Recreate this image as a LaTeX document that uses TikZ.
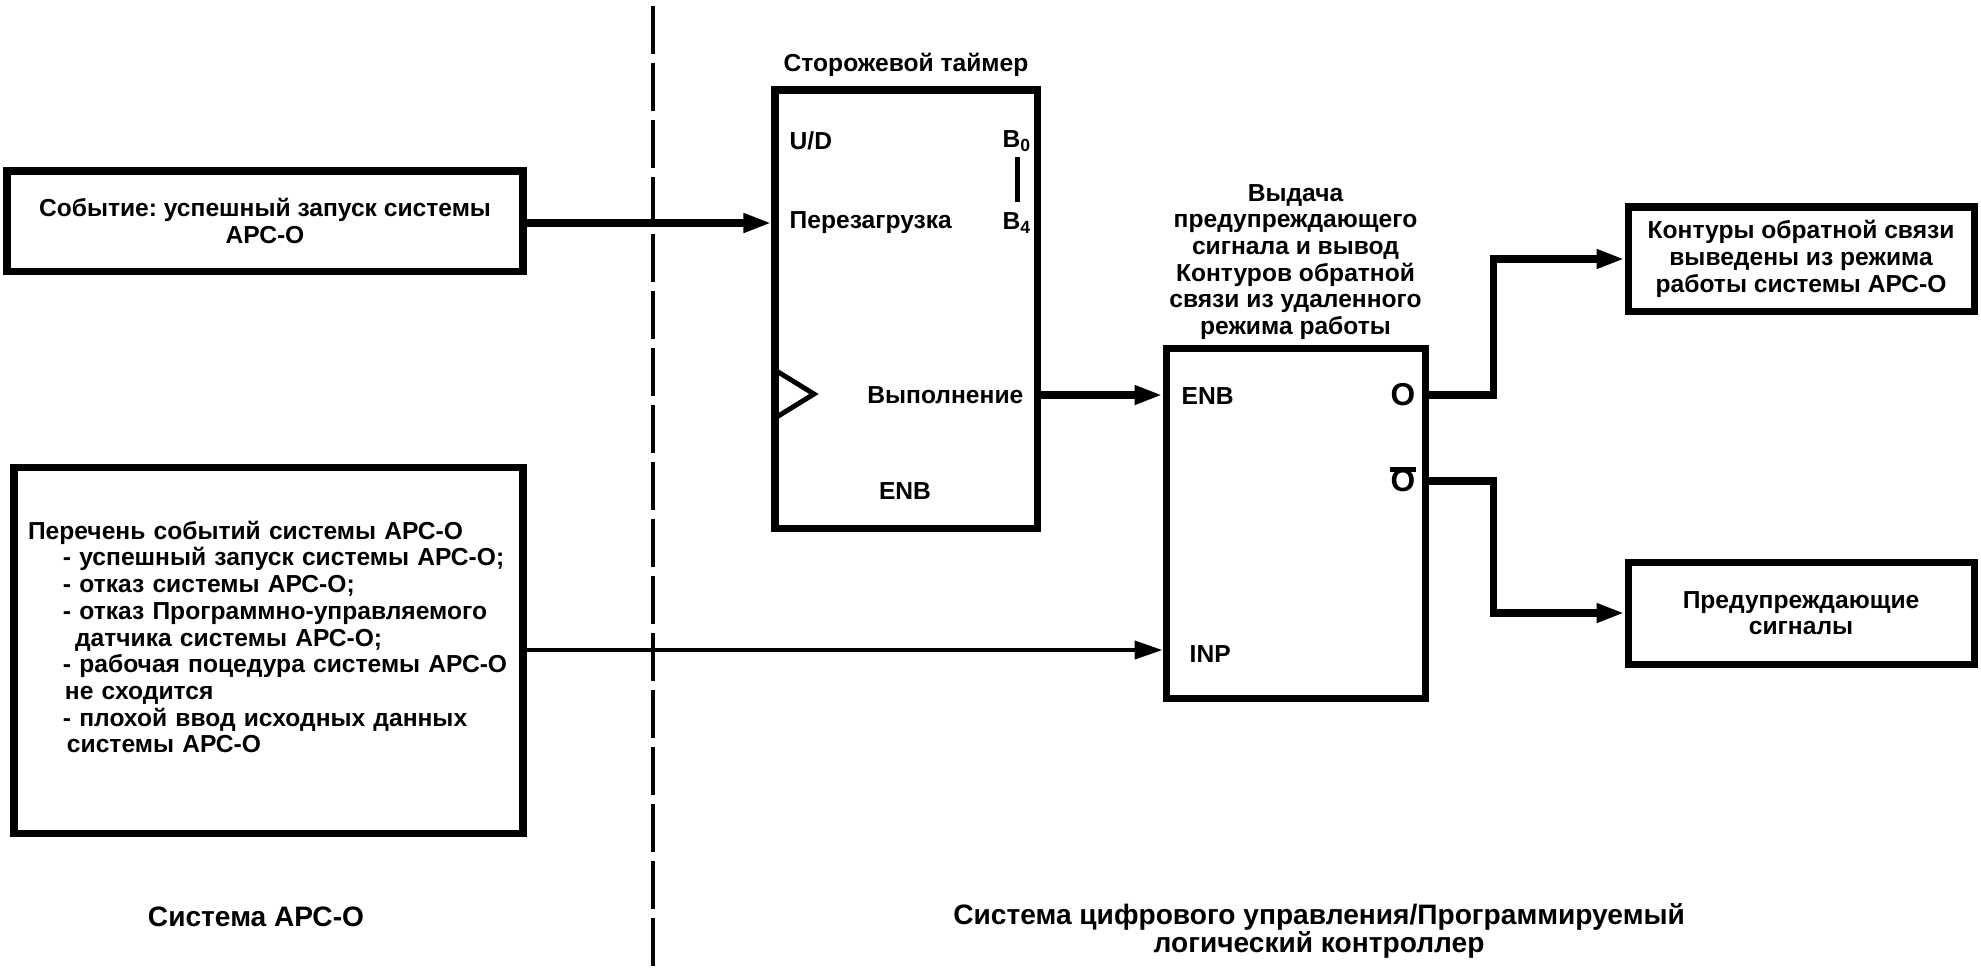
\documentclass[tikz,border=0pt]{standalone}
\usepackage{fontspec}
\setmainfont{Liberation Sans}
\frenchspacing
\usetikzlibrary{positioning,arrows.meta}

\begin{document}
\begin{tikzpicture}[
    every node/.style={inner sep=0pt, align=center,
        font=\bfseries\fontsize{7}{7.6}\selectfont},
    box/.style={draw, line width=2pt},
    link/.style={line width=2.2pt, -{Triangle[length=2.8mm, width=1.8mm]}},
    caption/.style={font=\bfseries\fontsize{8}{8.2}\selectfont}]

    \useasboundingbox (0,0) rectangle (19.81,-9.72);

    % separation of the two systems
    \draw[line width=1.4pt, dash pattern=on 0.48cm off 0.09cm]
        (6.53,-0.06) -- (6.53,-9.72);

    \node[box, minimum width=5.16cm, minimum height=1cm
    ](event) at (2.65,-2.21) {Событие: успешный запуск системы\\АРС-О};

    \node[box, minimum width=5.09cm, minimum height=3.66cm
    ](events) at (2.685,-6.50) {};
    \node[align=left, text width=4.81cm
    ](eventlist) at ([yshift=0.13cm]events.center) {Перечень событий системы АРС-О\\
        \hspace*{0.35cm}- успешный запуск системы АРС-О;\\
        \hspace*{0.35cm}- отказ системы АРС-О;\\
        \hspace*{0.35cm}- отказ Программно-управляемого\\
        \hspace*{0.47cm}датчика системы АРС-О;\\
        \hspace*{0.35cm}- рабочая поцедура системы АРС-О\\
        \hspace*{0.37cm}не сходится\\
        \hspace*{0.35cm}- плохой ввод исходных данных\\
        \hspace*{0.39cm}системы АРС-О};

    % watchdog timer
    \node[box, minimum width=2.62cm, minimum height=4.38cm
    ](timer) at (9.06,-3.09) {};
    \node[above=0.09cm of timer](timertitle) {Сторожевой таймер};
    \node[anchor=west](updown) at (7.89,-1.41) {U/D};
    \node[anchor=west](reload) at (7.89,-2.23) {Перезагрузка};
    \node[anchor=west](bzero) at (10.02,-1.41) {B\textsubscript{0}};
    \node[anchor=west](bfour) at (10.02,-2.23) {B\textsubscript{4}};
    \draw[line width=1.5pt, shorten <=0.05cm, shorten >=0.1cm]
        (bzero) -- (bfour);
    \draw[line width=1.4pt] (7.75,-3.70) -- (8.14,-3.94) -- (7.75,-4.18);
    \node[anchor=east](run) at (10.24,-3.95) {Выполнение};
    \node(timerenb) at (9.05,-4.91) {ENB};

    % alarm block
    \node[box, minimum width=2.59cm, minimum height=3.50cm
    ](alarm) at (12.955,-5.23) {};
    \node[above=0.04cm of alarm](alarmtitle) {Выдача\\предупреждающего\\
        сигнала и вывод\\Контуров обратной\\связи из удаленного\\режима работы};
    \node[anchor=west](alarmenb) at (11.81,-3.96) {ENB};
    \node[anchor=west](alarminp) at (11.89,-6.54) {INP};
    \node[font=\bfseries\fontsize{9}{9}\selectfont](outo) at (14.03,-3.95) {O};
    \node[font=\bfseries\fontsize{9}{9}\selectfont](outnot) at (14.03,-4.81) {O};
    \draw[line width=1.4pt] (outnot.north west) -- (outnot.north east);

    \node[box, minimum width=3.46cm, minimum height=1.04cm
    ](loops) at (18.01,-2.59) {Контуры обратной связи\\выведены из режима\\
        работы системы АРС-О};
    \node[box, minimum width=3.46cm, minimum height=1.02cm
    ](warnings) at (18.01,-6.13) {Предупреждающие\\сигналы};

    \node[caption](apcs) at (2.56,-9.17) {Система АРС-О};
    \node[caption](plc) at (13.19,-9.31)
        {Система цифрового управления/Программируемый\\логический контроллер};

    \draw[link] (event.east |- reload) -- (reload -| timer.west);
    \draw[link] (run -| timer.east) -- (run -| alarm.west);
    \draw[link, line width=1.2pt] (events.east) -- (events.east -| alarm.west);
    \draw[link] (outo -| alarm.east) -- ++(0.65,0) |- (loops);
    \draw[link] (outnot -| alarm.east) -- ++(0.65,0) |- (warnings);
\end{tikzpicture}
\end{document}
